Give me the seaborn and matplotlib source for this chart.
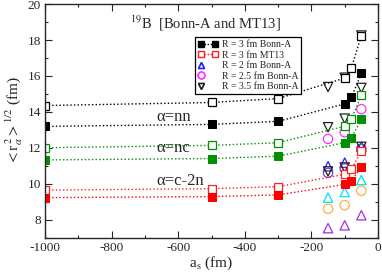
import matplotlib
matplotlib.use("Agg")
import matplotlib.pyplot as plt
from matplotlib.lines import Line2D
from matplotlib.ticker import MultipleLocator
import seaborn as sns
import pandas as pd

# ---- data ----
as_x = [-1000, -500, -300, -100, -80, -50]
nn_bonn = [13.19, 13.30, 13.47, 14.44, 14.80, 16.14]
nn_mt13 = [14.35, 14.52, 14.74, 15.88, 16.43, 18.25]
nc_bonn = [11.32, 11.40, 11.53, 12.28, 12.55, 13.60]
nc_mt13 = [12.00, 12.13, 12.28, 13.20, 13.60, 14.92]
c2n_bonn = [9.22, 9.28, 9.37, 9.96, 10.14, 10.94]
c2n_mt13 = [9.64, 9.72, 9.83, 10.52, 10.80, 11.80]

as_r = [-150, -100, -50]
r2_nn = [10.97, 11.17, 12.05]
r2_nc = [9.22, 9.53, 10.20]
r2_c2n = [7.52, 7.68, 8.24]
r25_nn = [12.49, 12.86, 14.15]
r25_nc = [10.60, 10.85, 11.95]
r25_c2n = [8.60, 8.80, 9.60]
r35_nn = [15.38, 15.90, 18.25]
r35_nc = [13.14, 13.62, 15.33]
r35_c2n = [10.68, 10.90, 12.05]

legend_labels = ["R = 3 fm Bonn-A", "R = 3 fm MT13", "R = 2 fm Bonn-A",
                 "R = 2.5 fm Bonn-A", "R = 3.5 fm Bonn-A"]

sns.set_style("ticks")
plt.rcParams['font.family'] = ['Liberation Serif', 'DejaVu Serif']
plt.rcParams['mathtext.fontset'] = 'stix'
plt.rcParams['axes.unicode_minus'] = False

fig = plt.figure(figsize=(3.82, 2.72), dpi=100)
ax = fig.add_axes([45/382, 1-237.5/272, 333/382, 233.4/272])

GREEN = '#009000'
ms = 6

def line(y, color, filled):
    df = pd.DataFrame({"x": as_x, "y": y})
    kw = dict(marker='s', markersize=ms, linestyle=(0, (1, 1.6)), linewidth=1.0,
              color=color, markeredgecolor=color)
    if filled:
        kw['markerfacecolor'] = color
    else:
        kw['markerfacecolor'] = 'white'
        kw['markeredgewidth'] = 0.9
    sns.lineplot(data=df, x="x", y="y", ax=ax, sort=False, **kw)

line(nn_mt13, 'black', False)
line(nn_bonn, 'black', True)
line(nc_mt13, GREEN, False)
line(nc_bonn, GREEN, True)
line(c2n_mt13, '#ff2020', False)
line(c2n_bonn, '#ff0000', True)

def pts(y, marker, color):
    df = pd.DataFrame({"x": as_r, "y": y})
    sns.scatterplot(data=df, x="x", y="y", ax=ax, marker=marker, s=45,
                    facecolors='none', edgecolors=color, linewidths=0.9)

pts(r2_nn, '^', '#2020ff')
pts(r2_nc, '^', '#00e0f0')
pts(r2_c2n, '^', '#a030e0')
pts(r25_nn, 'o', '#ff30ff')
pts(r25_nc, 'o', '#7a40c0')
pts(r25_c2n, 'o', '#ffb040')
pts(r35_nn, 'v', '#202020')
pts(r35_nc, 'v', '#202020')
pts(r35_c2n, 'v', '#202020')

ax.set_xlim(-1000, 0)
ax.set_ylim(7, 20)
ax.xaxis.set_major_locator(MultipleLocator(200))
ax.xaxis.set_minor_locator(MultipleLocator(100))
ax.yaxis.set_major_locator(MultipleLocator(2))
ax.yaxis.set_minor_locator(MultipleLocator(1))
ax.set_yticks([8, 10, 12, 14, 16, 18, 20])
ax.tick_params(which='both', direction='in', top=True, right=True, labelsize=9.5,
               width=0.8, pad=3)
ax.tick_params(which='major', length=5)
ax.tick_params(which='minor', length=2.5)
for s in ax.spines.values():
    s.set_linewidth(1.0)

ax.set_xlabel(r'a$_{\rm s}$ (fm)', fontsize=11, labelpad=1)
ax.set_ylabel(r'$<$r$^{\,2}_{\alpha}$$>^{1/2}$ (fm)', fontsize=11, labelpad=2)

ax.text(-745, 18.95, r'$^{19}$B  [Bonn-A and MT13]', fontsize=10.5, va='center')
ax.text(-665, 13.72, 'α=nn', fontsize=12, va='center')
ax.text(-665, 12.0, 'α=nc', fontsize=12, va='center')
ax.text(-665, 10.15, 'α=c-2n', fontsize=12, va='center')

handles = [
    Line2D([], [], color='black', marker='s', markersize=4.5, linestyle=(0, (1, 1.2)),
           linewidth=1.0, markerfacecolor='black'),
    Line2D([], [], color='#ff2020', marker='s', markersize=4.5, linestyle=(0, (1, 1.2)),
           linewidth=1.0, markerfacecolor='white'),
    Line2D([], [], color='#2020ff', marker='^', markersize=5, linestyle='none',
           markerfacecolor='none'),
    Line2D([], [], color='#ff30ff', marker='o', markersize=5, linestyle='none',
           markerfacecolor='none'),
    Line2D([], [], color='#202020', marker='v', markersize=5, linestyle='none',
           markerfacecolor='none'),
]
leg = ax.legend(handles, legend_labels, loc='upper left', bbox_to_anchor=(0.45, 0.86),
                fontsize=7, frameon=True, fancybox=False, edgecolor='black',
                framealpha=1, handlelength=2.0, handletextpad=0.4, borderpad=0.35,
                labelspacing=0.15, numpoints=2, borderaxespad=0)
leg.get_frame().set_linewidth(0.9)
for h in leg.legend_handles[2:]:
    h.set_xdata([h.get_xdata()[0] if len(h.get_xdata()) else 0])

fig.savefig("out.png", dpi=100)
